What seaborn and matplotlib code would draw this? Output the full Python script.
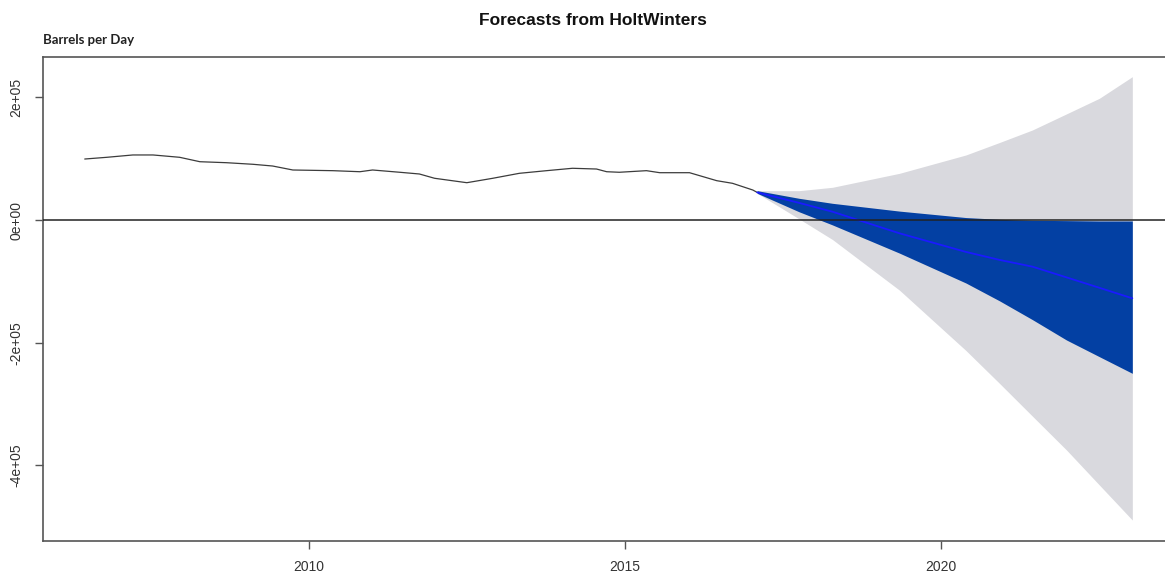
import numpy as np
import pandas as pd
import matplotlib
matplotlib.use("Agg")
import matplotlib.pyplot as plt
import seaborn as sns

# historical series (year, barrels per day)
hist_years = [2006.46, 2006.81, 2007.22, 2007.54, 2007.96, 2008.28, 2008.70, 2009.12,
              2009.43, 2009.75, 2010.38, 2010.81, 2011.01, 2011.44, 2011.75, 2011.99,
              2012.50, 2012.91, 2013.33, 2013.76, 2014.17, 2014.55, 2014.71, 2014.91,
              2015.34, 2015.55, 2016.02, 2016.45, 2016.70, 2017.02, 2017.09]
hist_values = [99400, 102200, 106000, 106000, 102200, 95000, 93400, 90800,
               88000, 81500, 80400, 78700, 81500, 77800, 75000, 68000,
               60800, 68000, 76100, 80400, 84300, 83100, 78700, 77800,
               80400, 77100, 77100, 64100, 59800, 48900, 45000]

# forecast with 80% / 95% intervals
fc_years = [2017.09, 2017.75, 2018.28, 2019.34, 2020.39, 2020.92, 2021.44, 2021.98, 2022.50, 2023.02]
fc_mean = [45000, 28000, 13500, -21700, -52000, -65000, -76000, -93500, -110500, -127600]
fc_hi80 = [47800, 35400, 27200, 14500, 4000, 1100, -500, -1000, -1600, -1600]
fc_lo80 = [43500, 13500, -8000, -54000, -102700, -131700, -162300, -195600, -222800, -249900]
fc_hi95 = [47800, 47800, 53300, 76100, 106000, 126300, 146700, 173000, 198400, 233600]
fc_lo95 = [43500, 2000, -31800, -114400, -212700, -266200, -319600, -374900, -432000, -489000]

y_ticks = [200000, 0, -200000, -400000]
y_ticklabels = ["2e+05", "0e+00", "-2e+05", "-4e+05"]
x_ticks = [2010, 2015, 2020]

sns.set_style("ticks")
plt.rcParams['font.family'] = ['Liberation Sans', 'DejaVu Sans']

fig = plt.figure(figsize=(11.65, 5.75), dpi=100)
ax = fig.add_axes([0.0369, 0.0591, 0.966, 0.8418])

hist = pd.DataFrame({'year': hist_years, 'value': hist_values})
fc = pd.DataFrame({'year': fc_years, 'mean': fc_mean})

ax.fill_between(fc_years, fc_lo95, fc_hi95, color='#d9d9de', linewidth=0, zorder=1)
ax.fill_between(fc_years, fc_lo80, fc_hi80, color='#0340a3', linewidth=0, zorder=2)
sns.lineplot(data=hist, x='year', y='value', ax=ax, color='#3c3c3c', linewidth=0.9, zorder=3)
sns.lineplot(data=fc, x='year', y='mean', ax=ax, color='#1a1aff', linewidth=1.3, zorder=4)
ax.axhline(0, color='#222222', linewidth=1.1, zorder=5)

ax.set_xlim(2005.80, 2023.59)
ax.set_ylim(-523200, 265700)
ax.set_xticks(x_ticks)
ax.set_xticklabels([str(x) for x in x_ticks])
ax.set_yticks(y_ticks)
ax.set_yticklabels(y_ticklabels, rotation=90, va='center')
ax.set_xlabel('')
ax.set_ylabel('')

for s in ax.spines.values():
    s.set_color('#555555')
    s.set_linewidth(1.2)
ax.tick_params(axis='both', direction='out', length=6, width=1, color='#555555',
               labelsize=10, labelcolor='#333333', pad=8)

fig.text(0.509, 0.965, 'Forecasts from HoltWinters', ha='center', va='center',
         fontsize=12.5, fontweight='bold', color='#111111')
fig.text(0.0369, 0.930, 'Barrels per Day', ha='left', va='center',
         fontsize=9.5, fontweight='bold', color='#222222', family=['Lato', 'DejaVu Sans'])

fig.savefig('out.png', dpi=100)
